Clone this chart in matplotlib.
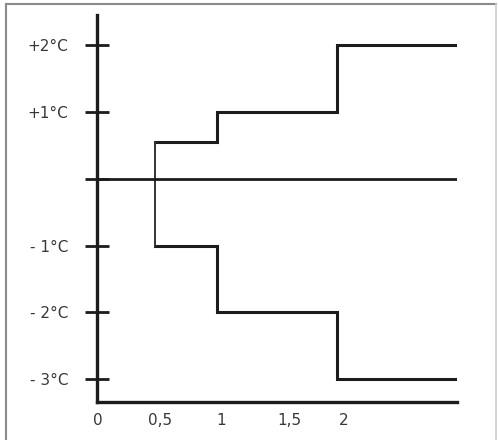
import matplotlib.pyplot as plt
import matplotlib.transforms as mtransforms
from matplotlib.lines import Line2D

# step profile
times = [0.48, 1, 2, 3]
upper = [0.55, 1, 2, 2]
lower = [-1, -2, -3, -3]

x_ticks = [0, 0.5, 1, 1.5, 2]
x_labels = ['0', '0,5', '1', '1,5', '2']
y_ticks = [2, 1, 0, -1, -2, -3]
y_labels = ['+2°C', '+1°C', '', '- 1°C', '- 2°C', '- 3°C']

plt.rcParams['font.family'] = ['DejaVu Sans']

fig = plt.figure(figsize=(4.98, 4.40), dpi=100)
ax = fig.add_axes([97 / 498, 38 / 440, 360 / 498, 387 / 440])

ink = '#1c1c1c'
ax.plot(times, upper, drawstyle='steps-post', color=ink, lw=2.2, solid_joinstyle='miter')
ax.plot(times, lower, drawstyle='steps-post', color=ink, lw=2.2, solid_joinstyle='miter')
ax.plot([times[0], times[0]], [upper[0], lower[0]], color='#333333', lw=1.4)
ax.axhline(0, color=ink, lw=2.0)

ax.set_xlim(0, 3)
ax.set_ylim(-3.34, 2.45)

for s in ['top', 'right']:
    ax.spines[s].set_visible(False)
for s in ['left', 'bottom']:
    ax.spines[s].set_linewidth(2.4)
    ax.spines[s].set_color(ink)

ax.set_xticks(x_ticks)
ax.set_xticklabels(x_labels)
ax.set_yticks(y_ticks)
ax.set_yticklabels(y_labels)
ax.tick_params(axis='x', length=0, pad=8, labelsize=11, labelcolor='#383838')
ax.tick_params(axis='y', direction='inout', length=17, width=2.0, color=ink,
               pad=12, labelsize=11, labelcolor='#383838')

# the x labels in the original sit a little right of their ticks
nudges = [1, 3, 4, 12, 7]
for lab, dx in zip(ax.get_xticklabels(), nudges):
    lab.set_transform(lab.get_transform() + mtransforms.ScaledTranslation(dx / 100, 0, fig.dpi_scale_trans))

# outer frame around the figure (bottom edge is cut off)
frame_color = '#8a8a8a'
fig.add_artist(Line2D([6 / 498, 6 / 498], [0, 1 - 4 / 440], transform=fig.transFigure, color=frame_color, lw=1.5))
fig.add_artist(Line2D([6 / 498, 496 / 498], [1 - 4 / 440, 1 - 4 / 440], transform=fig.transFigure, color=frame_color, lw=1.5))
fig.add_artist(Line2D([496 / 498, 496 / 498], [0, 1 - 4 / 440], transform=fig.transFigure, color='#cccccc', lw=1.2))

fig.savefig('out.png', dpi=100)
